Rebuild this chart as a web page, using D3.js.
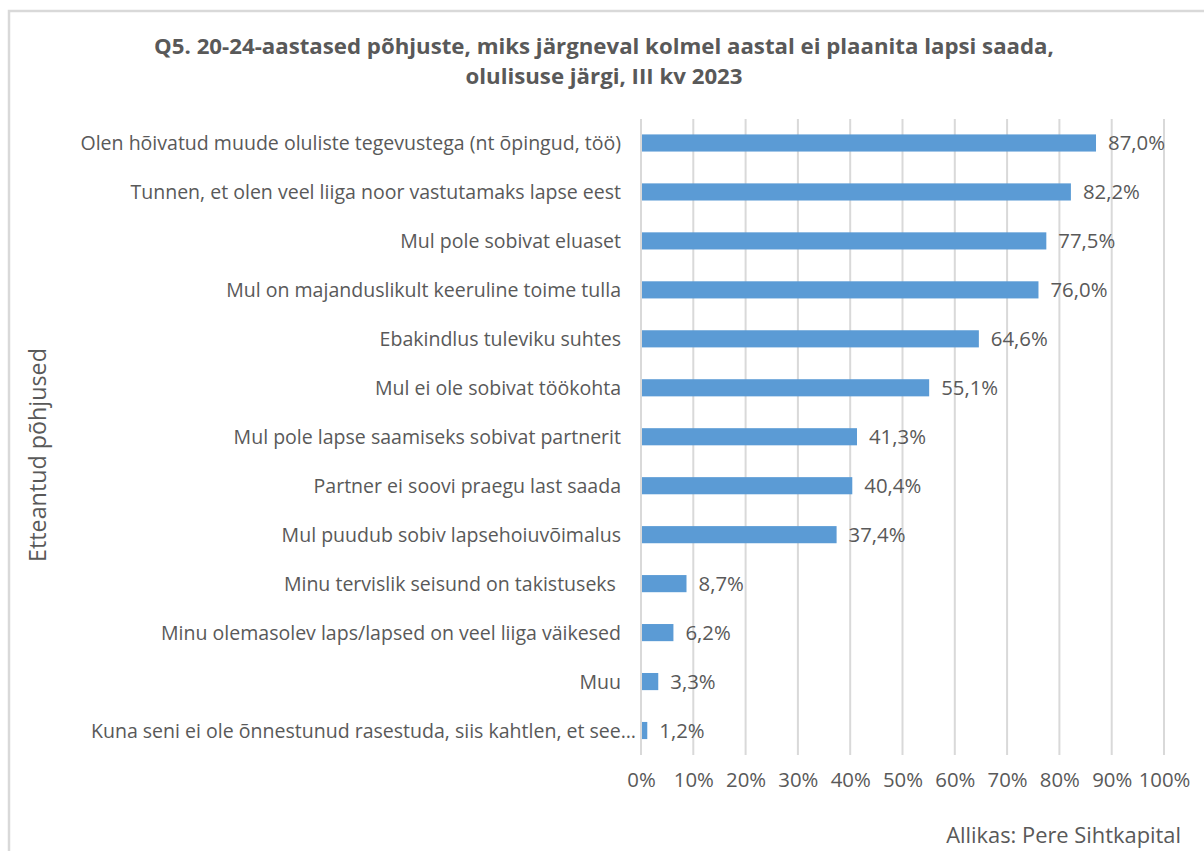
<!DOCTYPE html>
<html><head><meta charset="utf-8">
<script src="https://cdn.jsdelivr.net/npm/d3@7"></script>
<style>body{margin:0;background:#fff;} svg{display:block;}</style>
</head><body>
<svg id="c" width="1204" height="851"></svg>
<script>
const categories = [
  "Olen hõivatud muude oluliste tegevustega (nt õpingud, töö)",
  "Tunnen, et olen veel liiga noor vastutamaks lapse eest",
  "Mul pole sobivat eluaset",
  "Mul on majanduslikult keeruline toime tulla",
  "Ebakindlus tuleviku suhtes",
  "Mul ei ole sobivat töökohta",
  "Mul pole lapse saamiseks sobivat partnerit",
  "Partner ei soovi praegu last saada",
  "Mul puudub sobiv lapsehoiuvõimalus",
  "Minu tervislik seisund on takistuseks ",
  "Minu olemasolev laps/lapsed on veel liiga väikesed",
  "Muu",
  "Kuna seni ei ole õnnestunud rasestuda, siis kahtlen, et see…"
];
const values = [87.0, 82.2, 77.5, 76.0, 64.6, 55.1, 41.3, 40.4, 37.4, 8.7, 6.2, 3.3, 1.2];
const xTicks = [0,10,20,30,40,50,60,70,80,90,100];
const titleLines = ["Q5. 20-24-aastased põhjuste, miks järgneval kolmel aastal ei plaanita lapsi saada,", "olulisuse järgi, III kv 2023"];
const yTitle = "Etteantud põhjused";
const source = "Allikas: Pere Sihtkapital";

const svg = d3.select("#c");
const FONT = "'Open Sans', 'Noto Sans', sans-serif";
const TXT = "#595959";

function fit(sel, target, base){
  sel.attr("font-size", base);
  const w = sel.node().getComputedTextLength();
  sel.attr("font-size", base * target / w);
  return base * target / w;
}

// frame
svg.append("path").attr("d","M9,851 V11 H1204").attr("fill","none").attr("stroke","#d9d9d9").attr("stroke-width",2.5);

const x = d3.scaleLinear().domain([0,100]).range([641,1164]);
const y = d3.scaleBand().domain(categories).range([118.5,755]).paddingInner(0.65).paddingOuter(0.325);

// gridlines
svg.append("g").selectAll("line").data(xTicks).join("line")
  .attr("x1",d=>x(d)).attr("x2",d=>x(d)).attr("y1",119).attr("y2",755)
  .attr("stroke","#d9d9d9").attr("stroke-width",2);

// bars
svg.append("g").selectAll("rect").data(values).join("rect")
  .attr("x",x(0)+1).attr("y",(d,i)=>y(categories[i]))
  .attr("width",d=>x(d)-x(0)-1).attr("height",y.bandwidth())
  .attr("fill","#5b9bd5");

// category labels (truncated label sits closer to the axis, as in the original)
const lab = svg.append("g").selectAll("text").data(categories).join("text")
  .attr("x",d=>d.endsWith("…") ? 636 : 621).attr("y",d=>y(d)+y.bandwidth()/2).attr("dy","0.36em")
  .attr("text-anchor","end").attr("fill",TXT).attr("font-family",FONT)
  .attr("xml:space","preserve").style("white-space","pre")
  .text(d=>d);
const fs = fit(d3.select(lab.nodes()[0]), 541, 16);
lab.attr("font-size", fs);

// value labels
const vl = svg.append("g").selectAll("text").data(values).join("text")
  .attr("x",d=>x(d)+12).attr("y",(d,i)=>y(categories[i])+y.bandwidth()/2).attr("dy","0.36em")
  .attr("fill",TXT).attr("font-family",FONT)
  .text(d=>d3.format(".1f")(d).replace(".",",")+"%");
const vfs = fit(d3.select(vl.nodes()[0]), 57, 16);
vl.attr("font-size", vfs);

// x axis labels
const axis = d3.axisBottom(x).tickValues(xTicks).tickSize(0).tickPadding(0).tickFormat(d=>d+"%");
const ax = svg.append("g").attr("transform","translate(0,773)").call(axis);
ax.select(".domain").remove();
ax.selectAll("text").attr("fill",TXT).attr("font-family",FONT).attr("font-size",vfs);

// title
const t = svg.append("g").selectAll("text").data(titleLines).join("text")
  .attr("x",604).attr("y",(d,i)=>54+i*30).attr("text-anchor","middle")
  .attr("fill",TXT).attr("font-family",FONT).attr("font-weight","bold").text(d=>d);
const tfs = fit(d3.select(t.nodes()[0]), 900, 18);
t.attr("font-size", tfs);

// y title
const yt = svg.append("text").attr("transform","translate(46,455) rotate(-90)").attr("text-anchor","middle")
  .attr("fill",TXT).attr("font-family",FONT).text(yTitle);
fit(yt, 214, 16);

// source
const src = svg.append("text").attr("x",1181).attr("y",843).attr("text-anchor","end")
  .attr("fill",TXT).attr("font-family",FONT).text(source);
fit(src, 235, 16);
</script>
</body></html>
